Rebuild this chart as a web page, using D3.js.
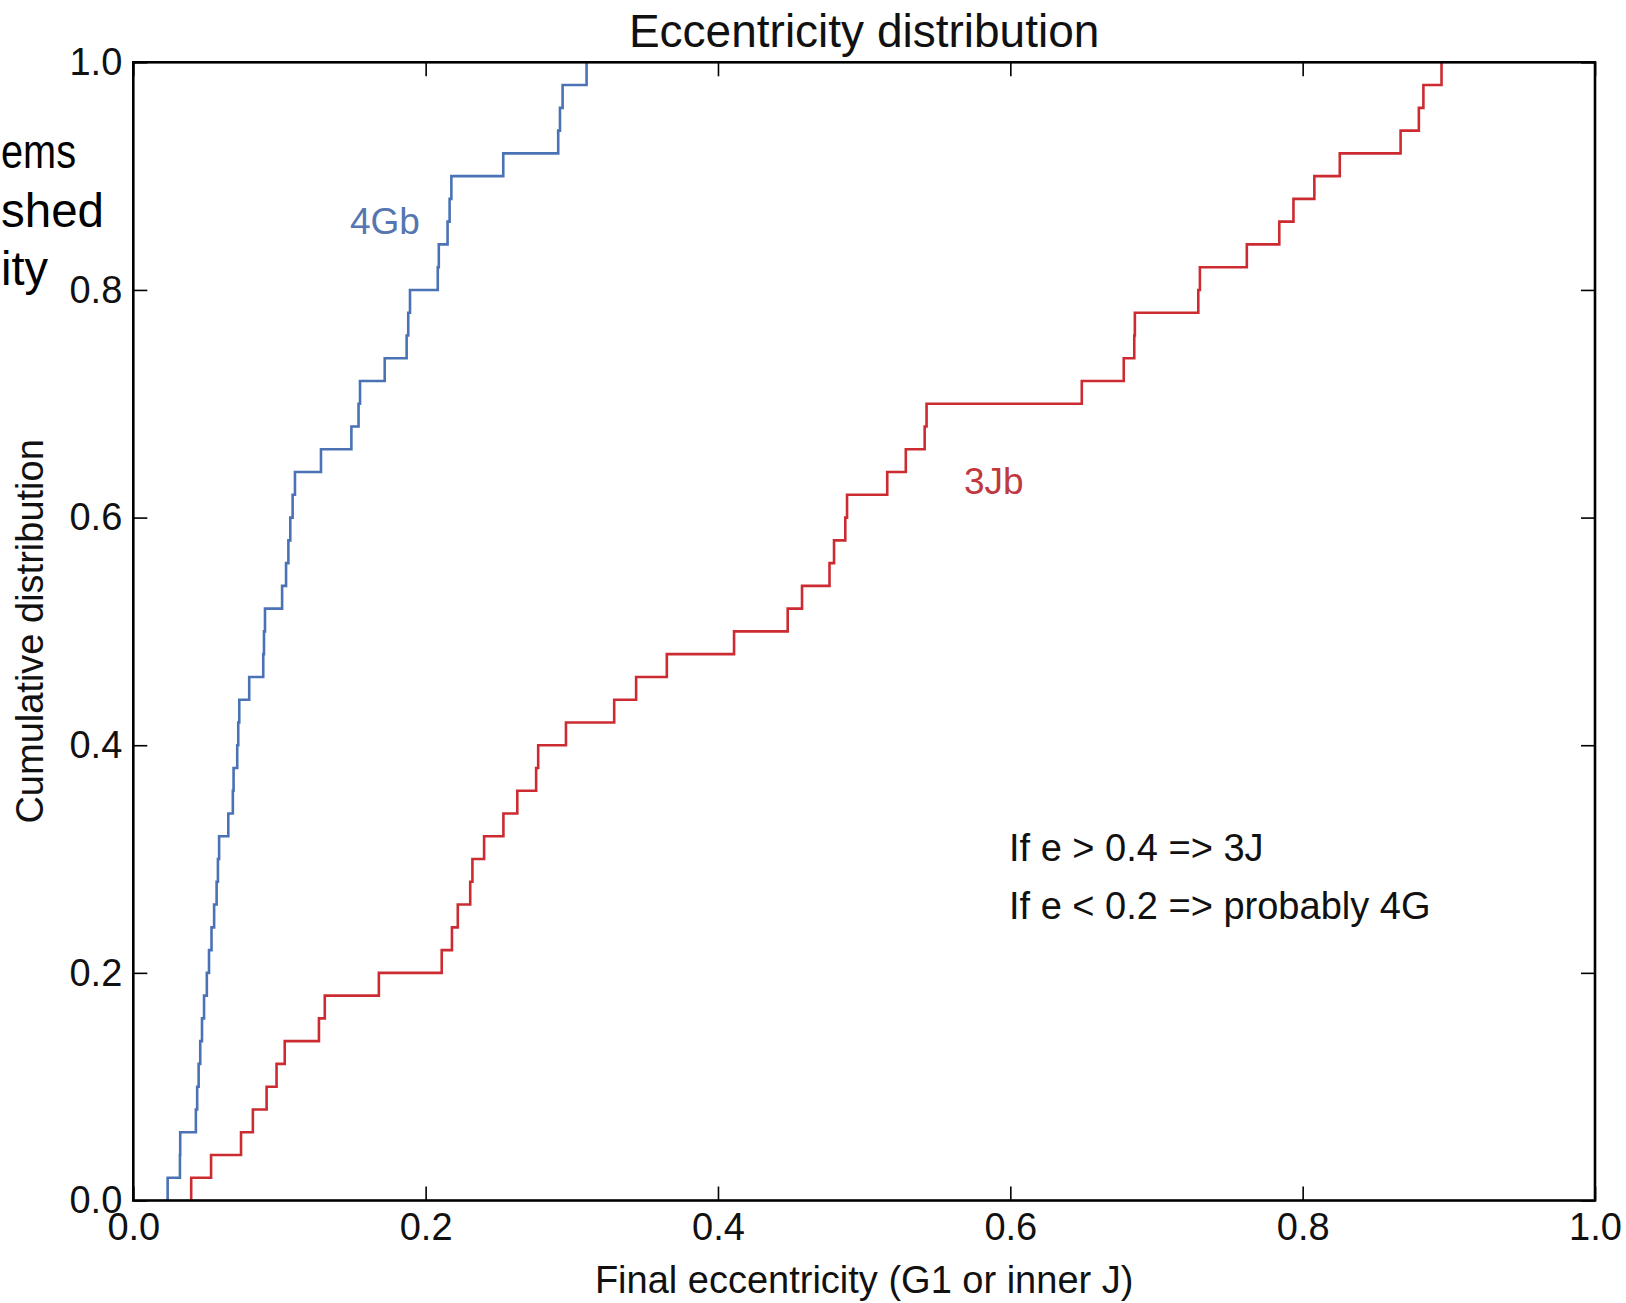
<!DOCTYPE html>
<html>
<head>
<meta charset="utf-8">
<script src="https://cdn.jsdelivr.net/npm/d3@7"></script>
<style>
  body { margin: 0; background: #fff; }
  text { font-family: "Liberation Sans", Arial, sans-serif; }
</style>
</head>
<body>
<div class="chart"></div>
<script>
// sorted final eccentricities, one per run (50 runs each)
var ecc4Gb = [0.0235, 0.0319, 0.0321, 0.0428, 0.0437, 0.0447, 0.0458, 0.0470, 0.0484, 0.0503,
              0.0518, 0.0535, 0.0553, 0.0570, 0.0579, 0.0587, 0.0650, 0.0681, 0.0686, 0.0711,
              0.0718, 0.0725, 0.0793, 0.0889, 0.0894, 0.0901, 0.1018, 0.1045, 0.1061, 0.1074,
              0.1090, 0.1106, 0.1284, 0.1492, 0.1541, 0.1551, 0.1720, 0.1870, 0.1881, 0.1893,
              0.2083, 0.2090, 0.2150, 0.2164, 0.2176, 0.2531, 0.2907, 0.2919, 0.2937, 0.3101];

var ecc3Jb = [0.0396, 0.0532, 0.0737, 0.0818, 0.0912, 0.0980, 0.1036, 0.1270, 0.1310, 0.1680,
              0.2110, 0.2180, 0.2220, 0.2305, 0.2320, 0.2400, 0.2532, 0.2627, 0.2756, 0.2770,
              0.2960, 0.3290, 0.3440, 0.3650, 0.4110, 0.4477, 0.4575, 0.4763, 0.4794, 0.4871,
              0.4883, 0.5158, 0.5285, 0.5414, 0.5427, 0.6489, 0.6776, 0.6848, 0.6852, 0.7286,
              0.7297, 0.7618, 0.7840, 0.7937, 0.8080, 0.8254, 0.8670, 0.8795, 0.8826, 0.8950];

var xTicks = [0, 0.2, 0.4, 0.6, 0.8, 1.0];
var yTicks = [0, 0.2, 0.4, 0.6, 0.8, 1.0];

var notes = ["If e > 0.4 => 3J", "If e < 0.2 => probably 4G"];
var slideWords = ["ems", "shed", "ity"];   // bits of the slide text cut off at the left

//Width and height
var w = 1626;
var h = 1303;
// plot box (note: "top" is a reserved window prop, so use pl/pr/pt/pb)
var pl = 133.3, pr = 1595, pt = 62.3, pb = 1200.5;

var svg = d3.select(".chart")
            .append("svg")
            .attr("width", w)
            .attr("height", h);

svg.append("rect").attr("width", w).attr("height", h).attr("fill", "#fff");

var x = d3.scaleLinear().domain([0, 1]).range([pl, pr]);
var y = d3.scaleLinear().domain([0, 1]).range([pb, pt]);

// empirical cdf as points: start at 0, then one step per sample
function cdf(vals) {
  var n = vals.length;
  var pts = [[vals[0], 0]];
  vals.forEach(function(v, i) { pts.push([v, (i + 1) / n]); });
  return pts;
}

var line = d3.line()
    .x(function(d) { return x(d[0]); })
    .y(function(d) { return y(d[1]); })
    .curve(d3.curveStepAfter);

svg.append("path")
    .datum(cdf(ecc4Gb))
    .attr("d", line)
    .attr("fill", "none")
    .attr("stroke", "#4a72b5")
    .attr("stroke-width", 2.6);

svg.append("path")
    .datum(cdf(ecc3Jb))
    .attr("d", line)
    .attr("fill", "none")
    .attr("stroke", "#cc2b31")
    .attr("stroke-width", 2.6);

//----------------------------------------------------------
// axes, ticks pointing inward on all four sides

function styleAxis(g) {
  g.select(".domain").remove();
  g.selectAll(".tick line").attr("stroke", "#000").attr("stroke-width", 1.6);
  g.selectAll(".tick text").attr("fill", "#111").style("font-size", "38px");
}

svg.append("g")
    .attr("transform", "translate(0," + pb + ")")
    .call(d3.axisBottom(x).tickValues(xTicks).tickSize(-14).tickPadding(13).tickFormat(d3.format(".1f")))
    .call(styleAxis);

svg.append("g")
    .attr("transform", "translate(0," + pt + ")")
    .call(d3.axisTop(x).tickValues(xTicks).tickSize(-14).tickFormat(""))
    .call(styleAxis);

svg.append("g")
    .attr("transform", "translate(" + pl + ",0)")
    .call(d3.axisLeft(y).tickValues(yTicks).tickSize(-14).tickPadding(11).tickFormat(d3.format(".1f")))
    .call(styleAxis);

svg.append("g")
    .attr("transform", "translate(" + pr + ",0)")
    .call(d3.axisRight(y).tickValues(yTicks).tickSize(-14).tickFormat(""))
    .call(styleAxis);

svg.append("rect")
    .attr("x", pl)
    .attr("y", pt)
    .attr("width", pr - pl)
    .attr("height", pb - pt)
    .attr("fill", "none")
    .attr("stroke", "#000")
    .attr("stroke-width", 2.6);

//----------------------------------------------------------
// texts

svg.append("text")
    .attr("x", (pl + pr) / 2)
    .attr("y", 47)
    .attr("text-anchor", "middle")
    .style("font-size", "46px")
    .attr("fill", "#111")
    .text("Eccentricity distribution");

svg.append("text")
    .attr("x", (pl + pr) / 2)
    .attr("y", 1293)
    .attr("text-anchor", "middle")
    .style("font-size", "38px")
    .attr("fill", "#111")
    .text("Final eccentricity (G1 or inner J)");

svg.append("text")
    .attr("transform", "translate(43," + (pt + pb) / 2 + ") rotate(-90)")
    .attr("text-anchor", "middle")
    .style("font-size", "38px")
    .attr("fill", "#111")
    .text("Cumulative distribution");

svg.append("text")
    .attr("x", 350)
    .attr("y", 234)
    .style("font-size", "37px")
    .attr("fill", "#5576b0")
    .text("4Gb");

svg.append("text")
    .attr("x", 964)
    .attr("y", 494)
    .style("font-size", "37px")
    .attr("fill", "#c0393f")
    .text("3Jb");

svg.selectAll(".note")
    .data(notes)
    .enter()
    .append("text")
    .attr("class", "note")
    .attr("x", 1009)
    .attr("y", function(d, i) { return 861 + i * 58; })
    .style("font-size", "38px")
    .attr("fill", "#111")
    .text(function(d) { return d; });

// left-over slide words, squeezed so they sit fully inside the page
var slideEnds = [76, 104, 48];
svg.selectAll(".slide")
    .data(slideWords)
    .enter()
    .append("text")
    .attr("class", "slide")
    .attr("x", 1)
    .attr("y", function(d, i) { return 168 + i * 58.5; })
    .attr("textLength", function(d, i) { return slideEnds[i] - 1; })
    .attr("lengthAdjust", "spacingAndGlyphs")
    .style("font-size", "48px")
    .attr("fill", "#000")
    .text(function(d) { return d; });
</script>
</body>
</html>
